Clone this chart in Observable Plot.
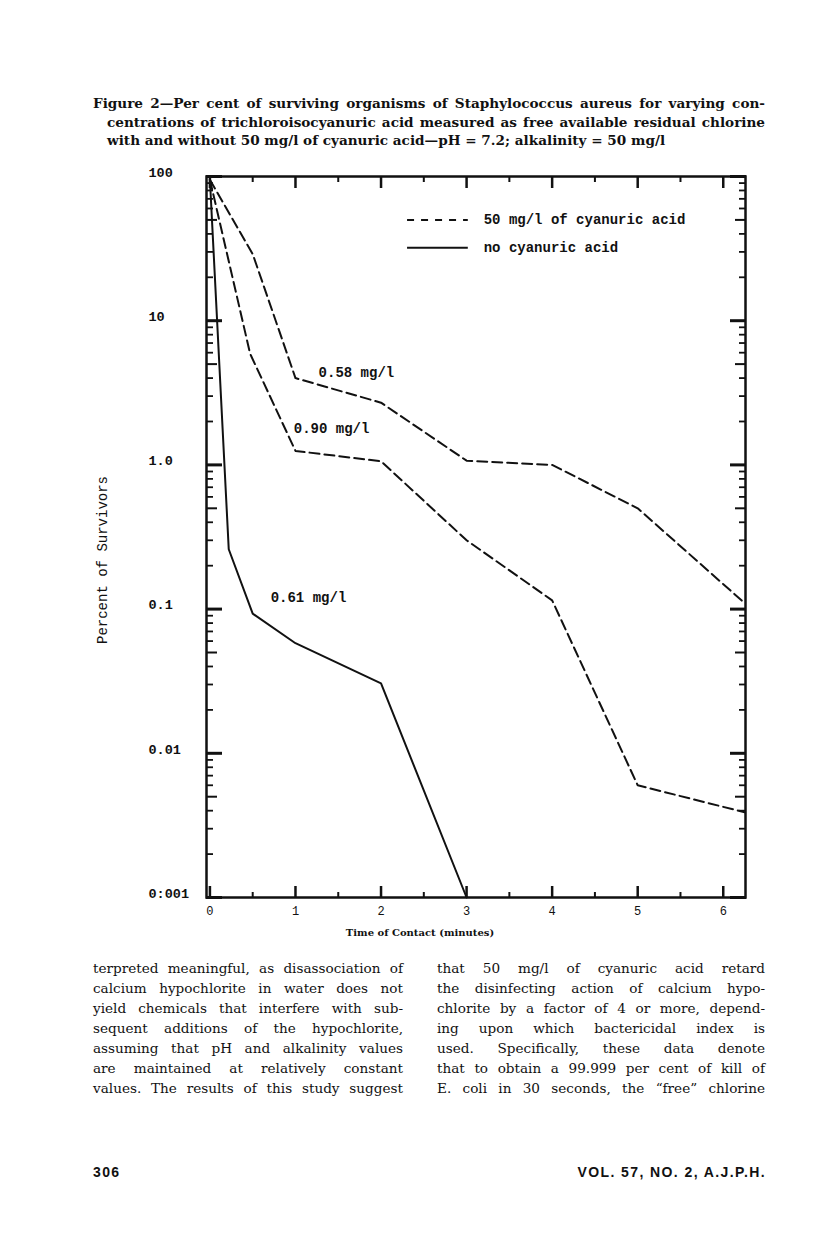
<!DOCTYPE html>
<html><head><meta charset="utf-8">
<script src="https://cdn.jsdelivr.net/npm/d3@7"></script>
<script src="https://cdn.jsdelivr.net/npm/@observablehq/plot@0.6"></script>
<style>
html,body{margin:0;padding:0;background:#fff;}
#page{position:relative;width:816px;height:1236px;overflow:hidden;color:#111;}
.title{position:absolute;left:93px;width:672px;top:94px;font-family:"DejaVu Serif",serif;font-weight:bold;font-size:13.6px;line-height:18.5px;}
.title .ln{text-align:justify;text-align-last:justify;}
.title .ind{padding-left:14px;}
.title .last{text-align:left;text-align-last:left;}
.col{position:absolute;top:958px;font-family:"DejaVu Serif",serif;font-size:13.6px;line-height:20px;}
.col div{text-align:justify;text-align-last:justify;}
#chart{position:absolute;left:0;top:150px;}
.ytitle{position:absolute;left:103px;top:560px;transform:translate(-50%,-50%) rotate(-90deg);font-family:"Liberation Mono",monospace;font-size:14px;white-space:nowrap;}
.xtitle{position:absolute;left:420px;top:932px;transform:translate(-50%,-50%);font-family:"DejaVu Serif",serif;font-weight:bold;font-size:10px;white-space:nowrap;}
.foot{position:absolute;top:1164px;font-family:"Liberation Sans",sans-serif;font-weight:bold;font-size:14px;letter-spacing:1.4px;}
</style></head>
<body><div id="page">
<div class="title">
<div class="ln">Figure 2—Per cent of surviving organisms of Staphylococcus aureus for varying con-</div>
<div class="ln ind">centrations of trichloroisocyanuric acid measured as free available residual chlorine</div>
<div class="ln ind last">with and without 50 mg/l of cyanuric acid—pH = 7.2; alkalinity = 50 mg/l</div>
</div>
<div id="chart"></div>
<div class="ytitle">Percent of Survivors</div>
<div class="xtitle">Time of Contact (minutes)</div>
<div class="col" id="colL" style="left:93px;width:310px;"></div>
<div class="col" id="colR" style="left:437px;width:328px;"></div>
<div class="foot" style="left:93px;">306</div>
<div class="foot" style="right:50px;">VOL. 57, NO. 2, A.J.P.H.</div>
</div>
<script>
// ---- data ----
const minutes058 = [0, 0.5, 1, 2, 3, 4, 5, 6.25];
const survivors058 = [95, 29, 4.0, 2.7, 1.07, 1.0, 0.5, 0.11];
const minutes090 = [0, 0.47, 1, 2, 3, 4, 5, 6.25];
const survivors090 = [95, 5.9, 1.25, 1.06, 0.30, 0.115, 0.006, 0.0039];
const minutes061 = [0, 0.22, 0.5, 1, 2, 3];
const survivors061 = [95, 0.26, 0.093, 0.058, 0.0305, 0.001];
const curveLabels = ["0.58 mg/l", "0.90 mg/l", "0.61 mg/l"];
const curveLabelMinutes = [1.27, 0.98, 0.71];
const curveLabelSurvivors = [4.4, 1.8, 0.12];
const xTickValues = [0, 1, 2, 3, 4, 5, 6];
const xTickLabels = ["0", "1", "2", "3", "4", "5", "6"];
const yTickValues = [100, 10, 1, 0.1, 0.01, 0.001];
const yTickLabels = ["100", "10", "1.0", "0.1", "0.01", "0:001"];
const legendLabels = ["50 mg/l of cyanuric acid", "no cyanuric acid"];
const leftColumn = [
 "terpreted meaningful, as disassociation of",
 "calcium hypochlorite in water does not",
 "yield chemicals that interfere with sub-",
 "sequent additions of the hypochlorite,",
 "assuming that pH and alkalinity values",
 "are maintained at relatively constant",
 "values. The results of this study suggest"];
const rightColumn = [
 "that 50 mg/l of cyanuric acid retard",
 "the disinfecting action of calcium hypo-",
 "chlorite by a factor of 4 or more, depend-",
 "ing upon which bactericidal index is",
 "used. Specifically, these data denote",
 "that to obtain a 99.999 per cent of kill of",
 "E. coli in 30 seconds, the \u201cfree\u201d chlorine"];

// ---- build tables ----
const dashed = [
  ...minutes058.map((t, i) => ({t, v: survivors058[i], s: "0.58"})),
  ...minutes090.map((t, i) => ({t, v: survivors090[i], s: "0.90"}))
];
const solid = minutes061.map((t, i) => ({t, v: survivors061[i]}));
const labels = curveLabels.map((l, i) => ({l, t: curveLabelMinutes[i], v: curveLabelSurvivors[i]}));
const minorTicks = [], fiveTicks = [];
for (const d of [0.001, 0.01, 0.1, 1, 10]) for (let m = 2; m <= 9; m++) (m === 5 ? fiveTicks : minorTicks).push(+(m * d).toPrecision(3));
const halfTicks = xTickValues.map(t => t + 0.5).filter(t => t < 6.2);

const mono = "'Liberation Mono', monospace";
const xDomain = [-0.04, 6.26];
// legend placement (in scale units)
const legX1 = 2.31, legX2 = 3.02, legTextX = 3.2, legY = [50, 32];
const legend = legendLabels.map((l, i) => ({l, y: legY[i]}));

const yAxis = (anchor, ticks, size, w) => Plot.axisY({anchor, ticks, tickSize: -size, strokeWidth: w, tickFormat: () => ""});
const xAxis = (anchor, ticks, size, w) => Plot.axisX({anchor, ticks, tickSize: -size, strokeWidth: w, tickFormat: () => ""});

const chart = Plot.plot({
  width: 816, height: 800,
  marginLeft: 206, marginRight: 71, marginTop: 26, marginBottom: 53,
  style: {fontFamily: mono, color: "#111", background: "transparent"},
  x: {domain: xDomain, label: null},
  y: {type: "log", domain: [0.001, 100], label: null},
  marks: [
    yAxis("left", yTickValues, 16, 3), yAxis("left", fiveTicks, 11, 2), yAxis("left", minorTicks, 7, 1.8),
    yAxis("right", yTickValues, 16, 3), yAxis("right", fiveTicks, 11, 2), yAxis("right", minorTicks, 7, 1.8),
    xAxis("bottom", xTickValues, 11, 2.5), xAxis("bottom", halfTicks, 5, 2),
    xAxis("top", xTickValues, 11, 2.5), xAxis("top", halfTicks, 5, 2),
    Plot.axisY({anchor: "left", ticks: yTickValues, tickSize: 0, tickPadding: 58, textAnchor: "start", dy: -4,
      tickFormat: d => yTickLabels[yTickValues.indexOf(d)], fontSize: 13.5, fontWeight: "bold"}),
    Plot.axisX({anchor: "bottom", ticks: xTickValues, tickSize: 0, tickPadding: 9,
      tickFormat: d => xTickLabels[xTickValues.indexOf(d)], fontSize: 12}),
    Plot.line(dashed, {x: "t", y: "v", z: "s", stroke: "#111", strokeWidth: 2, strokeDasharray: "10,5"}),
    Plot.line(solid, {x: "t", y: "v", stroke: "#111", strokeWidth: 2}),
    Plot.text(labels, {x: "t", y: "v", text: "l", textAnchor: "start", fontSize: 14, fontWeight: "bold", fill: "#111"}),
    Plot.ruleY(legend.slice(0, 1), {y: "y", x1: legX1, x2: legX2, stroke: "#111", strokeWidth: 2, strokeDasharray: "7,7"}),
    Plot.ruleY(legend.slice(1), {y: "y", x1: legX1, x2: legX2, stroke: "#111", strokeWidth: 2}),
    Plot.text(legend, {x: legTextX, y: "y", text: "l", textAnchor: "start", fontSize: 14, fontWeight: "bold", fill: "#111"}),
    Plot.frame({stroke: "#111", strokeWidth: 2.5})
  ]
});
document.getElementById("chart").append(chart);
document.getElementById("colL").innerHTML = leftColumn.map(s => `<div>${s}</div>`).join("");
document.getElementById("colR").innerHTML = rightColumn.map(s => `<div>${s}</div>`).join("");
</script>
</body></html>
